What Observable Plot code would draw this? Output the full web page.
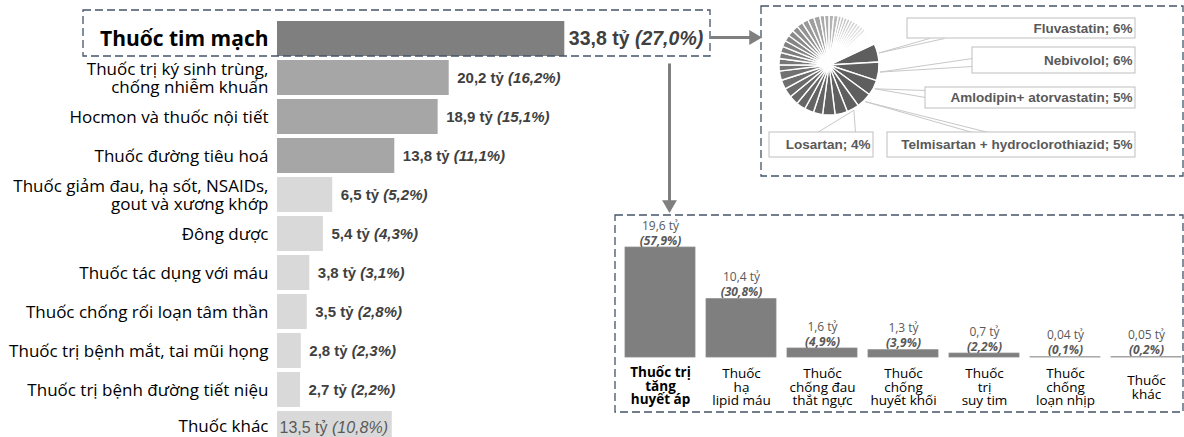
<!DOCTYPE html>
<html><head><meta charset="utf-8">
<script src="https://cdn.jsdelivr.net/npm/d3@7"></script>
<script src="https://cdn.jsdelivr.net/npm/@observablehq/plot@0.6"></script>
<style>
body{margin:0;background:#fff;overflow:hidden}
#root{position:relative;width:1184px;height:437px;overflow:hidden;background:#fff}
#root > svg{position:absolute;left:0;top:0}
</style></head><body><div id="root"></div>
<script>
// ---------- data ----------
const cats = ["Thuốc tim mạch", "Thuốc trị ký sinh trùng,\nchống nhiễm khuẩn", "Hocmon và thuốc nội tiết",
  "Thuốc đường tiêu hoá", "Thuốc giảm đau, hạ sốt, NSAIDs,\ngout và xương khớp", "Đông dược",
  "Thuốc tác dụng với máu", "Thuốc chống rối loạn tâm thần", "Thuốc trị bệnh mắt, tai mũi họng",
  "Thuốc trị bệnh đường tiết niệu", "Thuốc khác"];
const catValues = [33.8, 20.2, 18.9, 13.8, 6.5, 5.4, 3.8, 3.5, 2.8, 2.7, 13.5];
const catShares = [27.0, 16.2, 15.1, 11.1, 5.2, 4.3, 3.1, 2.8, 2.3, 2.2, 10.8];

const subcats = ["Thuốc trị\ntăng\nhuyết áp", "Thuốc\nhạ\nlipid máu", "Thuốc\nchống đau\nthắt ngực",
  "Thuốc\nchống\nhuyết khối", "Thuốc\ntrị\nsuy tim", "Thuốc\nchống\nloạn nhịp", "Thuốc\nkhác"];
const subValues = [19.6, 10.4, 1.6, 1.3, 0.7, 0.04, 0.05];
const subValueLabels = ["19,6", "10,4", "1,6", "1,3", "0,7", "0,04", "0,05"];
const subShares = [57.9, 30.8, 4.9, 3.9, 2.2, 0.1, 0.2];

const pieNames = ["Fluvastatin", "Nebivolol", "Amlodipin+ atorvastatin", "Telmisartan + hydroclorothiazid", "Losartan"];
const pieShares = [6, 6, 5, 5, 4];
const pieOtherShares = [4, 4, 3, 3, 3, 3, 3, 3, 3, 2, 2, 2, 2, 2, 2, 2, 2, 2, 2, 2, 2,
  1.5, 1.5, 1.5, 1.5, 1, 1, 1, 1, 1, 1, 1, 1, 1, 1, 0.5, 0.5, 0.5, 0.5, 0.5, 0.5, 0.5, 0.5, 0.5, 0.5];

// ---------- layout (annotation geometry) ----------
const layout = {
  frames: [[83, 10, 710, 56], [761, 6, 1183, 176], [615, 215, 1183, 412]],
  pie: {cx: 829, cy: 65, r: 50, startDeg: 65},
  callouts: [
    {box: [907, 18, 1135, 38], to: [[929, 38], [944, 38]]},
    {box: [972, 47, 1135, 73], to: [[972, 58], [972, 66]]},
    {box: [925, 87, 1135, 108], to: [[925, 90], [925, 97]]},
    {box: [887, 132, 1135, 157], to: [[972, 132], [988, 132]]},
    {box: [769, 132, 873, 157], to: [[817, 132], [855, 132]]}
  ],
  arrows: [{from: [710, 37], to: [750, 37], head: [753, 37], rotate: 90},
           {from: [669, 63], to: [669, 202], head: [669, 204], rotate: 180}]
};

const fmt = v => v.toFixed(1).replace(".", ",");
const SANS = "'Open Sans', 'Noto Sans', sans-serif";
const ARIAL = "'Liberation Sans', Arial, sans-serif";
const root = document.getElementById("root");

function styleParens(svg) {
  d3.select(svg).selectAll("text").each(function() {
    const sel = d3.select(this);
    const spans = this.querySelectorAll("tspan");
    if (spans.length) {
      spans.forEach(s => { if (/^\(.*%\)$/.test(s.textContent)) d3.select(s).attr("font-style", "italic").attr("font-weight", "bold"); });
    } else {
      const m = this.textContent.match(/^(.*?) (\(.*%\))$/);
      if (m) { this.textContent = ""; sel.append("tspan").text(m[1] + " "); sel.append("tspan").attr("font-style", "italic").text(m[2]); }
    }
  });
}

// ---------- left bar chart ----------
const rows = cats.map((c, i) => ({cat: c, value: catValues[i], share: catShares[i], i}));
const tierFill = i => i === 0 ? "#7f7f7f" : i < 4 ? "#a6a6a6" : "#d9d9d9";
const left = Plot.plot({
  width: 1184, height: 437, margin: 0,
  style: {background: "transparent", overflow: "visible"},
  x: {domain: [0, 40], range: [277, 277 + 40 * 8.5], axis: null},
  y: {domain: cats, range: [15.9, 450.1], padding: 0.105, axis: null},
  color: {type: "identity"},
  marks: [
    Plot.barX(rows, {x: "value", y: "cat", fill: d => tierFill(d.i)}),
    Plot.text(rows.filter(d => d.i > 0 && d.i < 10), {x: 0, y: "cat", text: "cat", textAnchor: "end", dx: -9,
      fontSize: 17, lineHeight: 1.07, fill: "#000", fontFamily: SANS}),
    Plot.text(rows.filter(d => d.i === 10), {x: 0, y: "cat", text: "cat", textAnchor: "end", dx: -9, dy: -2,
      fontSize: 17, fill: "#000", fontFamily: SANS}),
    Plot.text(rows.filter(d => d.i === 0), {x: 0, y: "cat", text: "cat", textAnchor: "end", dx: -9,
      fontSize: 21, fontWeight: "bold", fill: "#000", fontFamily: SANS}),
    Plot.text(rows.filter(d => d.i === 0), {x: "value", y: "cat", text: d => `${fmt(d.value)} tỷ (${fmt(d.share)}%)`,
      textAnchor: "start", dx: 4, fontSize: 19.5, fontWeight: "bold", fill: "#404040", fontFamily: ARIAL}),
    Plot.text(rows.filter(d => d.i > 0 && d.i < 10), {x: "value", y: "cat", text: d => `${fmt(d.value)} tỷ (${fmt(d.share)}%)`,
      textAnchor: "start", dx: 8, fontSize: 15, fontWeight: "bold", fill: "#404040", fontFamily: ARIAL}),
    Plot.text(rows.filter(d => d.i === 10), {x: 0, y: "cat", text: d => `${fmt(d.value)} tỷ (${fmt(d.share)}%)`,
      textAnchor: "start", dx: 2, dy: -1, fontSize: 16, fill: "#595959", fontFamily: ARIAL})
  ]
});
styleParens(left);
root.appendChild(left);

// ---------- bottom bar chart ----------
const subRows = subcats.map((c, i) => ({cat: c, value: subValues[i], label: subValueLabels[i], share: subShares[i], i}));
const bottom = Plot.plot({
  width: 1184, height: 437, margin: 0,
  style: {background: "transparent", overflow: "visible"},
  x: {domain: subcats, range: [625, 1181], paddingInner: 0.136, paddingOuter: 0, axis: null},
  y: {domain: [0, 20], range: [357, 357 - 20 * 5.61], axis: null},
  marks: [
    Plot.barY(subRows, {x: "cat", y: "value", fill: "#7f7f7f", stroke: "#8a8a8a", strokeWidth: 0.8}),
    Plot.text(subRows, {x: "cat", y: "value", text: d => `${d.label} tỷ\n(${fmt(d.share)}%)`, lineAnchor: "bottom",
      dy: -3, fontSize: 12, lineHeight: 1.25, fill: "#595959", fontFamily: SANS}),
    Plot.text(subRows.filter(d => d.i > 0), {x: "cat", y: 0, text: "cat", lineAnchor: "middle", dy: 30,
      fontSize: 13.5, lineHeight: 1.0, fill: "#000", fontFamily: SANS}),
    Plot.text(subRows.filter(d => d.i === 0), {x: "cat", y: 0, text: "cat", lineAnchor: "middle", dy: 29,
      fontSize: 13.5, lineHeight: 1.0, fontWeight: "bold", fill: "#000", fontFamily: SANS})
  ]
});
styleParens(bottom);
root.appendChild(bottom);

// ---------- pie + annotations ----------
const P = layout.pie;
const start = P.startDeg * Math.PI / 180;
const pieAll = pieShares.concat(pieOtherShares);
const arcs = d3.pie().sort(null).value(d => d).startAngle(start).endAngle(start + 2 * Math.PI)(pieAll);
const shade = d3.interpolateRgb("#5e5e5e", "#ffffff");
function pieMark() {
  const arc = d3.arc().innerRadius(0).outerRadius(P.r);
  const g = d3.create("svg:g").attr("transform", `translate(${P.cx},${P.cy})`);
  g.selectAll("path").data(arcs).join("path")
    .attr("d", arc)
    .attr("fill", d => shade(Math.pow(((d.startAngle + d.endAngle) / 2 - start) / (2 * Math.PI), 3.4)))
    .attr("stroke", "#fff").attr("stroke-width", 1.4);
  return g.node();
}
const leaderLinks = [];
layout.callouts.forEach((c, i) => {
  const a = (arcs[i].startAngle + arcs[i].endAngle) / 2;
  const px = P.cx + (P.r + 1) * Math.sin(a), py = P.cy - (P.r + 1) * Math.cos(a);
  c.to.forEach(t => leaderLinks.push({x1: px, y1: py, x2: t[0], y2: t[1]}));
});
const calloutRows = layout.callouts.map((c, i) => ({x1: c.box[0], y1: c.box[1], x2: c.box[2], y2: c.box[3],
  label: `${pieNames[i]}; ${pieShares[i]}%`}));
const frameRows = layout.frames.map(f => ({x1: f[0], y1: f[1], x2: f[2], y2: f[3]}));
const arrowRows = layout.arrows.map(a => ({x1: a.from[0], y1: a.from[1], x2: a.to[0], y2: a.to[1], hx: a.head[0], hy: a.head[1], rot: a.rotate}));

const annot = Plot.plot({
  width: 1184, height: 437, margin: 0,
  style: {background: "transparent", overflow: "visible"},
  x: {domain: [0, 1184], range: [0, 1184], axis: null},
  y: {domain: [0, 437], range: [0, 437], axis: null},
  marks: [
    pieMark,
    Plot.link(leaderLinks, {x1: "x1", y1: "y1", x2: "x2", y2: "y2", stroke: "#c8c8c8", strokeWidth: 1}),
    Plot.rect(calloutRows, {x1: "x1", y1: "y1", x2: "x2", y2: "y2", fill: "#fff", stroke: "#bfbfbf", strokeWidth: 1}),
    Plot.text(calloutRows, {x: "x2", y: d => (d.y1 + d.y2) / 2, text: "label", textAnchor: "end", dx: -3,
      fontSize: 13.5, fontWeight: "bold", fill: "#595959", fontFamily: ARIAL}),
    Plot.rect(frameRows, {x1: "x1", y1: "y1", x2: "x2", y2: "y2", fill: "none", stroke: "#44546a",
      strokeWidth: 1.3, strokeDasharray: "8,4"}),
    Plot.link(arrowRows, {x1: "x1", y1: "y1", x2: "x2", y2: "y2", stroke: "#7f7f7f", strokeWidth: 3}),
    Plot.dot(arrowRows, {x: "hx", y: "hy", symbol: "triangle", r: 5.5, rotate: "rot", fill: "#7f7f7f", stroke: "none"})
  ]
});
root.appendChild(annot);
</script></body></html>
